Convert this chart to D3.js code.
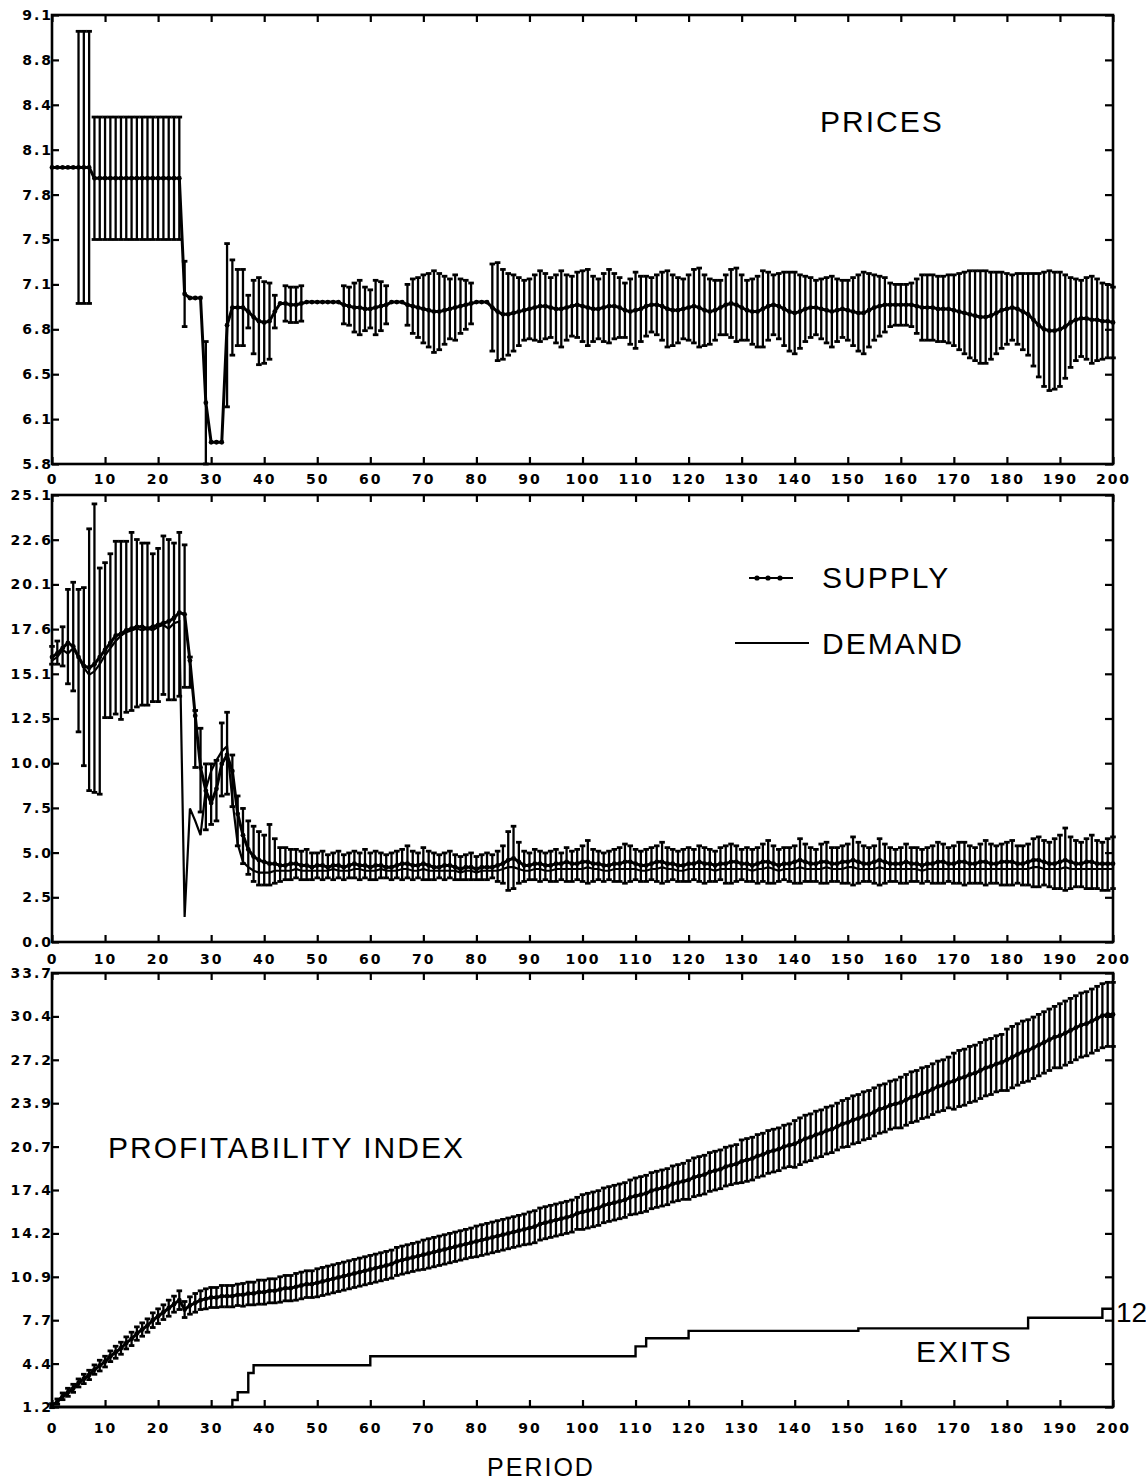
<!DOCTYPE html>
<html>
<head>
<meta charset="utf-8">
<script src="https://cdn.jsdelivr.net/npm/d3@7"></script>
<style>
  body { margin: 0; background: #fff; }
  svg { display: block; }
</style>
</head>
<body>
<svg id="chart"></svg>
<script>
// ---- data (one value per period, 0..200) ----
const periodTicks = [0,10,20,30,40,50,60,70,80,90,100,110,120,130,140,150,160,170,180,190,200];

const priceTicks = [5.8,6.13,6.46,6.79,7.12,7.45,7.78,8.11,8.44,8.77,9.1];
const priceTickLabels = ["5.8","6.1","6.5","6.8","7.1","7.5","7.8","8.1","8.4","8.8","9.1"];
const supplyTicks = [0,2.51,5.02,7.53,10.04,12.55,15.06,17.57,20.08,22.59,25.1];
const supplyTickLabels = ["0.0","2.5","5.0","7.5","10.0","12.5","15.1","17.6","20.1","22.6","25.1"];
const profitTicks = [1.2,4.45,7.7,10.95,14.2,17.45,20.7,23.95,27.2,30.45,33.7];
const profitTickLabels = ["1.2","4.4","7.7","10.9","14.2","17.4","20.7","23.9","27.2","30.4","33.7"];

const priceMean = [
  7.98,7.98,7.98,7.98,7.98,7.98,7.98,7.98,7.90,7.90,
  7.90,7.90,7.90,7.90,7.90,7.90,7.90,7.90,7.90,7.90,
  7.90,7.90,7.90,7.90,7.90,7.05,7.02,7.02,7.02,6.25,
  5.96,5.96,5.96,6.82,6.95,6.95,6.95,6.92,6.88,6.85,
  6.84,6.85,6.92,6.98,6.98,6.97,6.97,6.98,6.99,6.99,
  6.99,6.99,6.99,6.99,6.99,6.97,6.96,6.95,6.95,6.94,
  6.94,6.95,6.96,6.97,6.99,6.99,6.99,6.97,6.96,6.95,
  6.94,6.93,6.92,6.92,6.93,6.94,6.95,6.96,6.97,6.98,
  6.99,6.99,6.99,6.95,6.92,6.90,6.90,6.91,6.92,6.93,
  6.94,6.95,6.96,6.96,6.95,6.94,6.94,6.95,6.96,6.97,
  6.96,6.95,6.94,6.94,6.95,6.96,6.96,6.95,6.93,6.92,
  6.93,6.94,6.96,6.97,6.97,6.96,6.94,6.93,6.93,6.94,
  6.95,6.96,6.95,6.93,6.92,6.93,6.95,6.97,6.98,6.97,
  6.95,6.93,6.92,6.92,6.94,6.96,6.97,6.96,6.94,6.92,
  6.91,6.92,6.94,6.95,6.95,6.94,6.93,6.92,6.93,6.94,
  6.93,6.92,6.91,6.91,6.93,6.95,6.96,6.97,6.97,6.97,
  6.97,6.97,6.97,6.96,6.95,6.95,6.95,6.94,6.94,6.94,
  6.93,6.92,6.91,6.90,6.89,6.88,6.88,6.89,6.91,6.93,
  6.94,6.95,6.94,6.92,6.90,6.86,6.82,6.79,6.78,6.78,
  6.79,6.81,6.84,6.86,6.87,6.87,6.86,6.86,6.85,6.85,
  6.84
];
const priceSd = [
  0,0,0,0,0,1.0,1.0,1.0,0.45,0.45,
  0.45,0.45,0.45,0.45,0.45,0.45,0.45,0.45,0.45,0.45,
  0.45,0.45,0.45,0.45,0.45,0.24,0,0,0,0.45,
  0,0,0,0.6,0.35,0.28,0.28,0.12,0.27,0.32,
  0.30,0.28,0.12,0,0.13,0.13,0.13,0.13,0,0,
  0,0,0,0,0,0.14,0.14,0.18,0.20,0.16,
  0.14,0.20,0.18,0.14,0,0,0,0.15,0.20,0.22,
  0.25,0.27,0.30,0.28,0.25,0.22,0.24,0.20,0.18,0.15,
  0,0,0,0.32,0.36,0.33,0.30,0.28,0.25,0.22,
  0.22,0.24,0.26,0.24,0.22,0.25,0.28,0.24,0.22,0.24,
  0.26,0.28,0.24,0.22,0.25,0.27,0.24,0.22,0.20,0.24,
  0.28,0.24,0.22,0.20,0.22,0.25,0.28,0.26,0.24,0.22,
  0.24,0.27,0.29,0.26,0.24,0.22,0.20,0.22,0.25,0.27,
  0.24,0.22,0.24,0.26,0.28,0.25,0.22,0.24,0.27,0.29,
  0.30,0.27,0.24,0.22,0.20,0.22,0.24,0.26,0.23,0.21,
  0.22,0.25,0.28,0.30,0.27,0.24,0.22,0.20,0.16,0.15,
  0.15,0.15,0.16,0.20,0.24,0.24,0.24,0.24,0.24,0.25,
  0.26,0.28,0.30,0.32,0.33,0.34,0.34,0.32,0.30,0.28,
  0.26,0.24,0.26,0.28,0.30,0.34,0.38,0.42,0.44,0.43,
  0.42,0.38,0.33,0.30,0.28,0.30,0.32,0.30,0.28,0.27,
  0.26
];

const supplyMean = [
  16.0,16.2,16.5,16.8,16.6,16.0,15.5,15.4,15.6,16.0,
  16.4,16.8,17.2,17.3,17.5,17.6,17.7,17.7,17.6,17.7,
  17.8,17.9,18.0,18.2,18.5,18.4,15.8,12.7,9.8,8.5,
  7.8,8.6,10.0,10.5,9.6,7.2,6.0,5.2,4.8,4.6,
  4.5,4.4,4.4,4.3,4.3,4.4,4.4,4.3,4.3,4.2,
  4.3,4.3,4.2,4.3,4.3,4.2,4.3,4.4,4.3,4.3,
  4.2,4.3,4.3,4.2,4.2,4.3,4.4,4.4,4.3,4.3,
  4.4,4.3,4.2,4.2,4.3,4.3,4.2,4.1,4.2,4.2,
  4.1,4.2,4.2,4.2,4.3,4.4,4.6,4.7,4.5,4.3,
  4.3,4.4,4.4,4.3,4.3,4.4,4.4,4.5,4.4,4.4,
  4.5,4.5,4.4,4.4,4.3,4.3,4.4,4.4,4.5,4.5,
  4.4,4.3,4.3,4.4,4.5,4.5,4.4,4.4,4.3,4.3,
  4.4,4.4,4.5,4.4,4.4,4.3,4.4,4.4,4.5,4.5,
  4.4,4.4,4.3,4.4,4.5,4.5,4.4,4.3,4.4,4.4,
  4.5,4.6,4.5,4.4,4.4,4.5,4.5,4.4,4.4,4.5,
  4.5,4.6,4.5,4.4,4.4,4.5,4.6,4.5,4.4,4.4,
  4.4,4.5,4.4,4.4,4.3,4.4,4.4,4.5,4.5,4.4,
  4.4,4.5,4.5,4.4,4.4,4.5,4.5,4.4,4.4,4.5,
  4.5,4.5,4.4,4.4,4.5,4.6,4.6,4.5,4.4,4.4,
  4.5,4.6,4.5,4.4,4.4,4.5,4.5,4.4,4.4,4.4,
  4.4
];
const supplyHi = [
  16.6,16.9,17.7,19.8,20.2,19.8,19.9,23.2,24.6,21.0,
  21.3,21.8,22.5,22.5,22.5,23.0,22.6,22.4,22.4,21.8,
  22.1,22.8,22.6,22.4,23.0,22.3,16.0,13.0,12.0,10.0,
  10.0,10.2,12.3,12.9,10.5,8.2,7.5,6.8,6.5,6.2,
  6.0,6.6,5.8,5.3,5.3,5.2,5.2,5.1,5.2,5.0,
  5.0,5.1,4.9,5.0,5.1,4.9,5.0,5.1,5.0,5.2,
  5.0,5.1,5.0,4.9,5.0,5.1,5.2,5.4,5.1,5.0,
  5.3,5.1,5.0,4.9,5.0,5.1,4.9,4.8,4.9,5.0,
  4.8,4.9,5.0,4.9,5.1,5.4,6.2,6.5,5.6,5.1,
  5.0,5.2,5.1,5.0,5.1,5.2,5.0,5.3,5.1,5.2,
  5.4,5.7,5.2,5.1,5.0,5.1,5.2,5.3,5.5,5.4,
  5.2,5.1,5.2,5.3,5.4,5.6,5.3,5.2,5.1,5.2,
  5.3,5.2,5.4,5.3,5.2,5.1,5.3,5.4,5.5,5.4,
  5.2,5.3,5.2,5.3,5.5,5.7,5.4,5.2,5.3,5.3,
  5.4,5.8,5.5,5.3,5.2,5.5,5.6,5.3,5.3,5.4,
  5.5,5.9,5.6,5.4,5.3,5.4,5.8,5.5,5.3,5.2,
  5.3,5.5,5.3,5.3,5.2,5.3,5.4,5.6,5.5,5.3,
  5.4,5.6,5.6,5.4,5.3,5.5,5.7,5.5,5.4,5.5,
  5.6,5.7,5.4,5.4,5.5,5.8,5.9,5.7,5.6,5.8,
  6.0,6.4,5.9,5.7,5.6,5.8,6.0,5.7,5.6,5.8,
  5.9
];
const supplyLo = [
  15.6,15.6,15.5,14.5,14.1,11.8,9.9,8.5,8.4,8.3,
  12.6,12.6,12.8,12.5,12.9,13.0,13.2,13.3,13.3,13.5,
  13.5,13.9,13.6,13.6,13.8,14.3,14.3,9.8,7.3,6.3,
  6.6,6.8,8.2,8.3,7.6,5.4,4.4,3.8,3.4,3.2,
  3.2,3.2,3.3,3.4,3.5,3.5,3.6,3.5,3.5,3.5,
  3.6,3.5,3.6,3.5,3.6,3.5,3.6,3.6,3.5,3.6,
  3.5,3.5,3.6,3.6,3.5,3.6,3.5,3.6,3.5,3.6,
  3.5,3.5,3.5,3.6,3.5,3.6,3.5,3.5,3.5,3.5,
  3.5,3.5,3.5,3.6,3.4,3.3,2.9,3.0,3.3,3.4,
  3.5,3.5,3.4,3.5,3.4,3.4,3.5,3.4,3.4,3.5,
  3.4,3.3,3.4,3.5,3.4,3.5,3.4,3.4,3.3,3.4,
  3.5,3.4,3.4,3.5,3.4,3.3,3.4,3.5,3.4,3.4,
  3.4,3.5,3.4,3.3,3.4,3.4,3.5,3.3,3.3,3.4,
  3.5,3.4,3.4,3.3,3.4,3.3,3.3,3.4,3.5,3.4,
  3.3,3.3,3.4,3.4,3.4,3.3,3.3,3.4,3.4,3.3,
  3.3,3.2,3.3,3.4,3.4,3.3,3.2,3.3,3.4,3.4,
  3.3,3.3,3.4,3.4,3.3,3.4,3.3,3.3,3.3,3.4,
  3.3,3.3,3.2,3.3,3.3,3.3,3.2,3.3,3.3,3.2,
  3.2,3.2,3.3,3.2,3.2,3.1,3.1,3.2,3.1,3.0,
  3.0,2.9,3.0,3.1,3.1,3.0,3.0,3.0,2.9,2.9,
  3.0
];
const demand = [
  15.8,16.0,16.4,16.2,16.5,16.0,15.4,15.0,15.2,15.6,
  16.1,16.5,16.9,17.2,17.4,17.5,17.6,17.5,17.6,17.5,
  17.7,17.8,17.6,17.9,18.0,1.4,7.5,6.8,6.0,8.6,
  9.6,10.2,10.7,11.0,8.0,5.5,4.5,4.2,4.0,3.9,
  3.9,3.9,4.0,4.0,4.0,4.0,4.1,4.0,4.0,4.0,
  4.0,4.0,4.0,4.1,4.0,4.0,4.0,4.1,4.1,4.0,
  4.0,4.0,4.1,4.0,4.0,4.0,4.1,4.1,4.0,4.0,
  4.1,4.0,4.0,4.0,4.0,4.0,4.0,3.9,4.0,4.0,
  3.9,4.0,4.0,4.0,4.0,4.1,4.2,4.2,4.1,4.0,
  4.0,4.1,4.1,4.0,4.0,4.1,4.1,4.1,4.1,4.1,
  4.1,4.2,4.1,4.1,4.0,4.0,4.1,4.1,4.1,4.1,
  4.1,4.0,4.0,4.1,4.1,4.2,4.1,4.1,4.0,4.0,
  4.1,4.1,4.1,4.1,4.1,4.0,4.1,4.1,4.1,4.1,
  4.1,4.1,4.0,4.1,4.1,4.2,4.1,4.0,4.1,4.1,
  4.1,4.2,4.1,4.1,4.1,4.1,4.2,4.1,4.1,4.1,
  4.2,4.2,4.1,4.1,4.1,4.1,4.2,4.1,4.1,4.1,
  4.1,4.1,4.1,4.1,4.0,4.1,4.1,4.1,4.1,4.1,
  4.1,4.1,4.1,4.1,4.1,4.1,4.1,4.1,4.1,4.1,
  4.1,4.1,4.1,4.1,4.1,4.2,4.2,4.1,4.1,4.1,
  4.1,4.2,4.1,4.1,4.1,4.1,4.1,4.1,4.1,4.1,
  4.1
];

const profitMean = [
  1.3,1.6,2.0,2.3,2.6,3.0,3.3,3.6,4.0,4.3,
  4.6,5.0,5.3,5.6,6.0,6.3,6.7,7.0,7.3,7.7,
  8.0,8.3,8.6,8.9,9.2,8.5,8.8,9.0,9.2,9.3,
  9.4,9.4,9.5,9.5,9.5,9.6,9.6,9.7,9.7,9.8,
  9.8,9.9,9.9,10.0,10.1,10.1,10.2,10.3,10.4,10.4,
  10.5,10.6,10.7,10.8,10.9,11.0,11.1,11.2,11.3,11.4,
  11.5,11.6,11.7,11.8,11.9,12.1,12.2,12.3,12.4,12.5,
  12.6,12.7,12.8,12.9,13.0,13.1,13.2,13.3,13.4,13.5,
  13.6,13.7,13.8,13.9,14.0,14.1,14.2,14.3,14.4,14.5,
  14.6,14.7,14.9,15.0,15.1,15.2,15.3,15.4,15.5,15.7,
  15.8,15.9,16.0,16.1,16.3,16.4,16.5,16.6,16.7,16.9,
  17.0,17.1,17.2,17.4,17.5,17.6,17.7,17.9,18.0,18.1,
  18.2,18.4,18.5,18.6,18.8,18.9,19.0,19.2,19.3,19.4,
  19.6,19.7,19.8,20.0,20.1,20.3,20.4,20.5,20.7,20.8,
  20.9,21.1,21.3,21.4,21.6,21.7,21.9,22.0,22.2,22.4,
  22.5,22.7,22.8,23.0,23.1,23.3,23.5,23.6,23.8,23.9,
  24.0,24.2,24.4,24.5,24.7,24.8,25.0,25.2,25.3,25.5,
  25.6,25.8,25.9,26.1,26.2,26.4,26.6,26.7,26.9,27.0,
  27.2,27.4,27.6,27.8,27.9,28.1,28.3,28.5,28.7,28.9,
  29.0,29.2,29.4,29.6,29.8,29.9,30.1,30.3,30.5,30.6,
  30.6
];
const profitSd = [
  0.15,0.2,0.25,0.3,0.3,0.3,0.35,0.35,0.35,0.4,
  0.4,0.4,0.45,0.45,0.45,0.5,0.5,0.5,0.5,0.55,
  0.55,0.55,0.6,0.6,0.7,0.6,0.65,0.7,0.7,0.75,
  0.75,0.75,0.8,0.8,0.8,0.8,0.85,0.85,0.85,0.9,
  0.9,0.9,0.9,0.95,0.95,0.95,1.0,1.0,1.0,1.0,
  1.05,1.05,1.05,1.05,1.05,1.05,1.05,1.05,1.05,1.05,
  1.05,1.05,1.05,1.05,1.05,1.05,1.05,1.05,1.05,1.05,
  1.1,1.1,1.1,1.1,1.1,1.1,1.1,1.1,1.1,1.1,
  1.15,1.15,1.15,1.15,1.15,1.15,1.15,1.15,1.15,1.15,
  1.2,1.2,1.2,1.2,1.2,1.2,1.2,1.2,1.2,1.2,
  1.3,1.3,1.3,1.3,1.3,1.3,1.3,1.3,1.3,1.3,
  1.35,1.35,1.35,1.35,1.35,1.35,1.35,1.35,1.35,1.35,
  1.45,1.45,1.45,1.45,1.45,1.45,1.45,1.45,1.45,1.45,
  1.6,1.6,1.6,1.6,1.6,1.6,1.6,1.6,1.6,1.6,
  1.75,1.75,1.75,1.75,1.75,1.75,1.75,1.75,1.75,1.75,
  1.8,1.8,1.8,1.8,1.8,1.8,1.8,1.8,1.8,1.8,
  1.9,1.9,1.9,1.9,1.9,1.9,1.9,1.9,1.9,1.9,
  2.1,2.1,2.1,2.1,2.1,2.1,2.1,2.1,2.1,2.1,
  2.3,2.3,2.3,2.3,2.3,2.3,2.3,2.3,2.3,2.3,
  2.4,2.4,2.4,2.4,2.4,2.4,2.4,2.4,2.4,2.4,
  2.4
];

// cumulative exits, step changes
const exitPeriods = [0, 34, 35, 37, 38, 60, 110, 112, 120, 152, 184, 198, 200];
const exitValues  = [0, 0.85, 1.8, 4.15, 5.1, 6.2, 7.4, 8.4, 9.3, 9.6, 10.9, 12.0, 12.0];
const exitsMaxLabel = "12";

// ---- layout ----
const width = 1146;
const height = 1482;
const plotLeft = 52;
const plotRight = 1113;
const tickFont = "'DejaVu Sans', sans-serif";
const textFont = "'Liberation Sans', Arial, sans-serif";

const svg = d3.select("#chart")
    .attr("width", width)
    .attr("height", height)
    .style("background-color", "#fff");

const x = d3.scaleLinear().domain([0, 200]).range([plotLeft, plotRight]);

function drawFrame(top, bottom, y, ticks, labels, labelPad) {
    const g = svg.append("g");

    g.append("g")
        .attr("transform", "translate(0," + bottom + ")")
        .call(d3.axisBottom(x).tickValues(periodTicks).tickSize(-7).tickPadding(labelPad));
    g.append("g")
        .attr("transform", "translate(0," + top + ")")
        .call(d3.axisTop(x).tickValues(periodTicks).tickSize(-7).tickFormat(""));
    g.append("g")
        .attr("transform", "translate(" + plotLeft + ",0)")
        .call(d3.axisLeft(y).tickValues(ticks).tickSize(-7).tickPadding(-1)
            .tickFormat((d, i) => labels[i]));
    g.append("g")
        .attr("transform", "translate(" + plotRight + ",0)")
        .call(d3.axisRight(y).tickValues(ticks).tickSize(-8).tickFormat(""));

    g.selectAll(".domain").remove();
    g.selectAll(".tick line").attr("stroke", "#000").attr("stroke-width", 2.2);
    g.selectAll(".tick text")
        .attr("fill", "#000")
        .style("font-family", tickFont)
        .style("font-size", "14px")
        .style("font-weight", "bold")
        .style("letter-spacing", "2px");

    g.append("rect")
        .attr("x", plotLeft)
        .attr("y", top)
        .attr("width", plotRight - plotLeft)
        .attr("height", bottom - top)
        .attr("fill", "none")
        .attr("stroke", "#000")
        .attr("stroke-width", 2.6);
}

function drawErrorBars(g, y, mean, lo, hi) {
    const rows = mean.map((m, i) => ({ i: i, lo: lo[i], hi: hi[i] }))
        .filter(d => d.hi - d.lo > 0.001);

    g.selectAll(null).data(rows).enter().append("line")
        .attr("x1", d => x(d.i)).attr("x2", d => x(d.i))
        .attr("y1", d => y(d.lo)).attr("y2", d => y(d.hi))
        .attr("stroke", "#000").attr("stroke-width", 2.3);

    ["lo", "hi"].forEach(k => {
        g.selectAll(null).data(rows).enter().append("line")
            .attr("x1", d => x(d.i) - 2.8).attr("x2", d => x(d.i) + 2.8)
            .attr("y1", d => y(d[k])).attr("y2", d => y(d[k]))
            .attr("stroke", "#000").attr("stroke-width", 2.8);
    });
}

function drawMean(g, y, mean, dots) {
    g.append("path")
        .datum(mean)
        .attr("fill", "none")
        .attr("stroke", "#000")
        .attr("stroke-width", 3)
        .attr("stroke-linejoin", "round")
        .attr("d", d3.line().x((d, i) => x(i)).y(d => y(d)));
    if (dots) {
        g.selectAll(null).data(mean).enter().append("circle")
            .attr("cx", (d, i) => x(i))
            .attr("cy", d => y(d))
            .attr("r", 2.4)
            .attr("fill", "#000");
    }
}

function label(txt, px, py, size) {
    svg.append("text")
        .attr("x", px)
        .attr("y", py)
        .style("font-family", textFont)
        .style("font-size", size + "px")
        .style("letter-spacing", "2px")
        .attr("fill", "#000")
        .text(txt);
}

// ---- panel 1: prices ----
const yPrice = d3.scaleLinear().domain([5.8, 9.1]).range([464, 15]);
const gPrice = svg.append("g");
drawErrorBars(gPrice, yPrice, priceMean,
    priceMean.map((m, i) => m - priceSd[i]), priceMean.map((m, i) => m + priceSd[i]));
drawMean(gPrice, yPrice, priceMean, true);
drawFrame(15, 464, yPrice, priceTicks, priceTickLabels, 10);
label("PRICES", 820, 132, 30);

// ---- panel 2: supply and demand ----
const ySupply = d3.scaleLinear().domain([0, 25.1]).range([942, 495]);
const gSupply = svg.append("g");
drawErrorBars(gSupply, ySupply, supplyMean, supplyLo, supplyHi);
drawMean(gSupply, ySupply, supplyMean, true);
gSupply.append("path")
    .datum(demand)
    .attr("fill", "none")
    .attr("stroke", "#000")
    .attr("stroke-width", 2.2)
    .attr("d", d3.line().x((d, i) => x(i)).y(d => ySupply(d)));
drawFrame(495, 942, ySupply, supplyTicks, supplyTickLabels, 12);

// legend
svg.append("line")
    .attr("x1", 749).attr("x2", 793).attr("y1", 578).attr("y2", 578)
    .attr("stroke", "#000").attr("stroke-width", 2.2);
svg.selectAll(null).data([757, 768, 780]).enter().append("circle")
    .attr("cx", d => d).attr("cy", 578).attr("r", 2.6).attr("fill", "#000");
label("SUPPLY", 822, 588, 30);
svg.append("line")
    .attr("x1", 735).attr("x2", 809).attr("y1", 643).attr("y2", 643)
    .attr("stroke", "#000").attr("stroke-width", 2.2);
label("DEMAND", 822, 654, 30);

// ---- panel 3: profitability index and exits ----
const yProfit = d3.scaleLinear().domain([1.2, 33.7]).range([1407, 973]);
const yExits = d3.scaleLinear().domain([0, 53]).range([1407, 973]);
const gProfit = svg.append("g");
drawErrorBars(gProfit, yProfit, profitMean,
    profitMean.map((m, i) => m - profitSd[i]), profitMean.map((m, i) => m + profitSd[i]));
drawMean(gProfit, yProfit, profitMean, true);

gProfit.append("path")
    .datum(exitPeriods.map((p, i) => [p, exitValues[i]]))
    .attr("fill", "none")
    .attr("stroke", "#000")
    .attr("stroke-width", 2.4)
    .attr("d", d3.line().curve(d3.curveStepAfter).x(d => x(d[0])).y(d => yExits(d[1])));

drawFrame(973, 1407, yProfit, profitTicks, profitTickLabels, 16);
label("PROFITABILITY INDEX", 108, 1158, 30);
label("EXITS", 916, 1362, 30);
svg.append("text")
    .attr("x", plotRight + 3)
    .attr("y", yExits(12) + 13)
    .style("font-family", textFont)
    .style("font-size", "28px")
    .attr("fill", "#000")
    .text(exitsMaxLabel);

// x axis title
svg.append("text")
    .attr("x", 541)
    .attr("y", 1476)
    .attr("text-anchor", "middle")
    .style("font-family", textFont)
    .style("font-size", "25px")
    .style("letter-spacing", "2px")
    .attr("fill", "#000")
    .text("PERIOD");
</script>
</body>
</html>
